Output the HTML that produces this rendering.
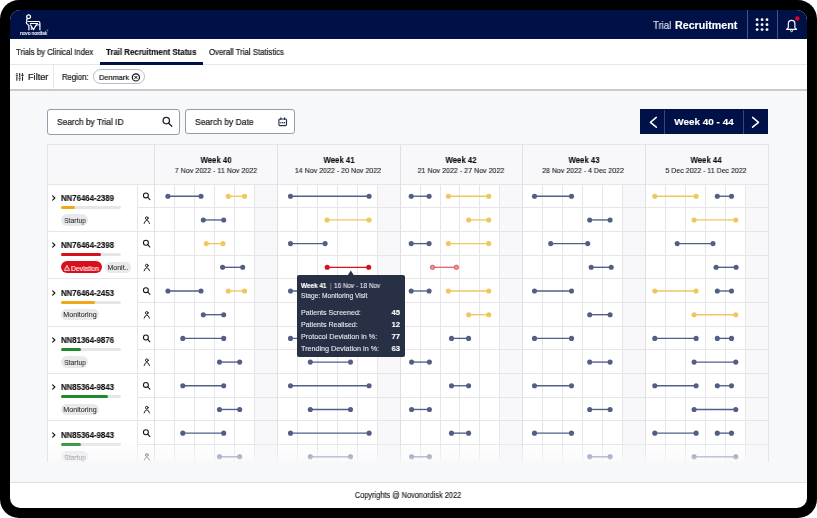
<!DOCTYPE html>
<html><head><meta charset="utf-8"><style>
html,body{margin:0;padding:0;background:#fff;width:817px;height:518px;overflow:hidden}
.r{position:absolute;box-sizing:border-box}
.t{position:absolute;white-space:nowrap;line-height:1;font-family:"Liberation Sans",sans-serif;will-change:transform}
svg.r{overflow:visible}
</style></head><body>
<div class="r" style="left:0;top:0;width:817px;height:518px;background:#000;border-radius:19px"></div>
<div class="r" style="left:10px;top:10px;width:797px;height:498px;background:#fff;border-radius:10px;overflow:hidden">
<div class="r" style="left:-10px;top:-10px;width:817px;height:518px">
<div class="r" style="left:0.00px;top:0.00px;width:817.00px;height:39.00px;background:#001148;"></div>
<svg class="r" style="left:18px;top:12px;will-change:transform" width="32" height="26" viewBox="0 0 32 26">
<g fill="none" stroke="#fff" stroke-width="1.2" stroke-linecap="round" stroke-linejoin="round">
<circle cx="10.6" cy="4.7" r="1.9" stroke-width="1.3"/>
<path d="M9.6 6.6 C8.4 7.4 8.2 8.6 9.2 9.4 C8.2 9.9 8.0 11.0 9.0 11.9 C9.8 12.6 10.5 12.9 10.9 13.4 L10.9 17.8"/>
<path d="M10.4 9.5 L20.6 9.5 C21.5 9.5 21.9 10.2 21.9 11.2 L21.9 17.8"/>
<path d="M12.2 11.5 L19.6 11.5" stroke-width="1.0"/>
<path d="M12.6 12.9 L15.4 17.8 L18.3 12.9"/>
<path d="M18.3 12.9 L21.7 12.9" stroke-width="1.0"/>
<path d="M13.3 17.6 L13.3 15.2" stroke-width="0.9"/>
</g>
<circle cx="29.5" cy="18.4" r="0.6" fill="none" stroke="#fff" stroke-width="0.35"/>
</svg>
<div class="t" style="left:19.80px;top:31.00px;font-size:5.4px;font-weight:400;color:#eef0f8;transform:scaleX(0.8883);transform-origin:0 0;-webkit-text-stroke:0.2px #eef0f8;">novo nordisk</div>
<div class="t" style="left:653.30px;top:21.00px;font-size:10.3px;font-weight:400;color:#d9dcea;transform:scaleX(0.9364);transform-origin:0 0;-webkit-text-stroke:0.22px #d9dcea;">Trial</div>
<div class="t" style="left:674.80px;top:21.00px;font-size:10.3px;font-weight:700;color:#ffffff;transform:scaleX(1.0364);transform-origin:0 0;-webkit-text-stroke:0.15px #ffffff;">Recruitment</div>
<div class="r" style="left:747.20px;top:10.00px;width:0.90px;height:28.60px;background:#46548a;"></div>
<div class="r" style="left:776.90px;top:10.00px;width:0.90px;height:28.60px;background:#46548a;"></div>
<svg class="r" style="left:0;top:0" width="817" height="40"><circle cx="757.10" cy="19.70" r="1.4" fill="#fff"/><circle cx="757.10" cy="24.65" r="1.4" fill="#fff"/><circle cx="757.10" cy="29.60" r="1.4" fill="#fff"/><circle cx="762.05" cy="19.70" r="1.4" fill="#fff"/><circle cx="762.05" cy="24.65" r="1.4" fill="#fff"/><circle cx="762.05" cy="29.60" r="1.4" fill="#fff"/><circle cx="767.00" cy="19.70" r="1.4" fill="#fff"/><circle cx="767.00" cy="24.65" r="1.4" fill="#fff"/><circle cx="767.00" cy="29.60" r="1.4" fill="#fff"/><path d="M788.3 27.6 L788.3 23.9 C788.3 21.5 789.6 20.3 791.6 20.3 C793.6 20.3 794.9 21.5 794.9 23.9 L794.9 27.6 C794.9 28.3 796.6 28.5 796.6 29.4 L786.6 29.4 C786.6 28.5 788.3 28.3 788.3 27.6 Z" fill="none" stroke="#fff" stroke-width="1.15" stroke-linejoin="round"/><circle cx="791.6" cy="30.7" r="1.0" fill="none" stroke="#fff" stroke-width="0.9"/><circle cx="797.3" cy="18.5" r="2.2" fill="#e4002b"/></svg>
<div class="r" style="left:0.00px;top:64.00px;width:817.00px;height:0.80px;background:#e6e7ea;"></div>
<div class="t" style="left:16.30px;top:49.00px;font-size:8.2px;font-weight:400;color:#1a1a1a;transform:scaleX(0.9458);transform-origin:0 0;-webkit-text-stroke:0.22px #1a1a1a;">Trials by Clinical Index</div>
<div class="t" style="left:105.80px;top:49.00px;font-size:8.2px;font-weight:700;color:#111;transform:scaleX(0.9594);transform-origin:0 0;-webkit-text-stroke:0.15px #111;">Trail Recruitment Status</div>
<div class="t" style="left:208.80px;top:49.00px;font-size:8.2px;font-weight:400;color:#1a1a1a;transform:scaleX(0.9526);transform-origin:0 0;-webkit-text-stroke:0.22px #1a1a1a;">Overall Trial Statistics</div>
<div class="r" style="left:100.00px;top:62.20px;width:103.00px;height:2.60px;background:#001148;"></div>
<div class="r" style="left:0.00px;top:89.20px;width:817.00px;height:1.80px;background:#c9cacd;"></div>
<div class="r" style="left:53.20px;top:64.80px;width:0.80px;height:24.40px;background:#e6e7ea;"></div>
<svg class="r" style="left:0;top:60px" width="60" height="30"><g stroke="#222" stroke-width="1.1" stroke-linecap="butt"><path d="M16.9 12.9 V14.2 M16.9 16.2 V20.7 M15.8 15.2 H18"/><path d="M19.7 12.9 V17.2 M19.7 19.2 V20.7 M18.6 18.2 H20.8"/><path d="M22.5 12.9 V14.4 M22.5 16.4 V20.7 M21.4 15.4 H23.6"/></g></svg>
<div class="t" style="left:27.70px;top:73.00px;font-size:8.8px;font-weight:400;color:#1a1a1a;transform:scaleX(1.0426);transform-origin:0 0;-webkit-text-stroke:0.22px #1a1a1a;">Filter</div>
<div class="t" style="left:61.80px;top:73.00px;font-size:8.4px;font-weight:400;color:#1a1a1a;transform:scaleX(0.9153);transform-origin:0 0;-webkit-text-stroke:0.22px #1a1a1a;">Region:</div>
<div class="r" style="left:93.3px;top:69.4px;width:52px;height:15px;border:1px solid #b8bcc6;border-radius:8px;background:#fff"></div>
<div class="t" style="left:98.50px;top:74.00px;font-size:8.0px;font-weight:400;color:#1a1a1a;transform:scaleX(0.9241);transform-origin:0 0;-webkit-text-stroke:0.22px #1a1a1a;">Denmark</div>
<svg class="r" style="left:0;top:60px" width="150" height="30"><g fill="none" stroke="#111" stroke-width="1.2"><circle cx="135.9" cy="17.4" r="3.6"/><path d="M134.4 15.9 L137.4 18.9 M137.4 15.9 L134.4 18.9" stroke-width="1"/></g></svg>
<div class="r" style="left:0.00px;top:91.00px;width:817.00px;height:391.00px;background:#f7f8fa;"></div>
<div class="r" style="left:0.00px;top:482.00px;width:817.00px;height:0.90px;background:#dfe0e3;"></div>
<div class="t" style="left:258.40px;width:300px;text-align:center;top:492.00px;font-size:8.2px;font-weight:400;color:#1a1a1a;transform:scaleX(0.9011);transform-origin:50% 0;-webkit-text-stroke:0.15px #1a1a1a;">Copyrights @ Novonordisk 2022</div>
<div class="r" style="left:47.3px;top:109.4px;width:132.6px;height:25.3px;border:1px solid #979cab;border-radius:3px;background:#fff"></div>
<div class="t" style="left:57.20px;top:118.00px;font-size:9.2px;font-weight:400;color:#1a1a1a;transform:scaleX(0.9108);transform-origin:0 0;-webkit-text-stroke:0.22px #1a1a1a;">Search by Trial ID</div>
<svg class="r" style="left:150px;top:105px" width="30" height="30"><g fill="none" stroke="#1b2030" stroke-width="1.3" stroke-linecap="round"><circle cx="16.3" cy="15.6" r="3.2"/><path d="M18.7 18.2 L21.8 21.2"/></g></svg>
<div class="r" style="left:185px;top:109.4px;width:109.6px;height:25.1px;border:1px solid #979cab;border-radius:3px;background:#fff"></div>
<div class="t" style="left:194.70px;top:118.00px;font-size:9.2px;font-weight:400;color:#1a1a1a;transform:scaleX(0.9240);transform-origin:0 0;-webkit-text-stroke:0.22px #1a1a1a;">Search by Date</div>
<svg class="r" style="left:270px;top:105px" width="30" height="30"><g fill="none" stroke="#2a3350" stroke-width="1.2"><rect x="8.9" y="14" width="7.6" height="6.6" rx="1"/><path d="M10.8 12.9 V14.5 M14.6 12.9 V14.5" stroke-linecap="round"/></g><g fill="#2a3350"><rect x="10.3" y="17" width="1.2" height="1.4"/><rect x="12.1" y="17" width="1.2" height="1.4"/><rect x="13.9" y="17" width="1.2" height="1.4"/></g></svg>
<div class="r" style="left:639.50px;top:109.30px;width:128.50px;height:25.00px;background:#001148;"></div>
<div class="r" style="left:664.00px;top:109.50px;width:0.80px;height:24.80px;background:#34457f;"></div>
<div class="r" style="left:743.20px;top:109.50px;width:0.80px;height:24.80px;background:#34457f;"></div>
<div class="t" style="left:554.00px;width:300px;text-align:center;top:117.00px;font-size:9.6px;font-weight:700;color:#fff;transform:scaleX(1.0354);transform-origin:50% 0;-webkit-text-stroke:0.15px #fff;">Week 40 - 44</div>
<svg class="r" style="left:640px;top:110px" width="128" height="25"><g fill="none" stroke="#fff" stroke-width="1.5" stroke-linecap="round" stroke-linejoin="round"><path d="M16.3 7.4 L10.4 12.3 L16.3 17.2"/><path d="M112.6 7.4 L118.5 12.3 L112.6 17.2"/></g></svg>
<div class="r" style="left:47.5px;top:144.5px;width:720.5px;height:317.8px;overflow:hidden;background:#fff">
<div class="r" style="left:0;top:0;width:720.5px;height:39.400000000000006px;background:#f8f8fa"></div>
<div class="r" style="left:206.60px;top:39.40px;width:23.60px;height:400px;background:#f8f8fa"></div>
<div class="r" style="left:330.00px;top:39.40px;width:22.50px;height:400px;background:#f8f8fa"></div>
<div class="r" style="left:452.30px;top:39.40px;width:22.70px;height:400px;background:#f8f8fa"></div>
<div class="r" style="left:574.80px;top:39.40px;width:22.90px;height:400px;background:#f8f8fa"></div>
<div class="r" style="left:697.50px;top:39.40px;width:23.00px;height:400px;background:#f8f8fa"></div>
<div class="r" style="left:126.35px;top:39.40px;width:0.8px;height:400px;background:#e6e6e9"></div>
<div class="r" style="left:146.30px;top:39.40px;width:0.8px;height:400px;background:#e6e6e9"></div>
<div class="r" style="left:166.25px;top:39.40px;width:0.8px;height:400px;background:#e6e6e9"></div>
<div class="r" style="left:186.20px;top:39.40px;width:0.8px;height:400px;background:#e6e6e9"></div>
<div class="r" style="left:206.15px;top:39.40px;width:0.8px;height:400px;background:#e6e6e9"></div>
<div class="r" style="left:249.75px;top:39.40px;width:0.8px;height:400px;background:#e6e6e9"></div>
<div class="r" style="left:269.70px;top:39.40px;width:0.8px;height:400px;background:#e6e6e9"></div>
<div class="r" style="left:289.65px;top:39.40px;width:0.8px;height:400px;background:#e6e6e9"></div>
<div class="r" style="left:309.60px;top:39.40px;width:0.8px;height:400px;background:#e6e6e9"></div>
<div class="r" style="left:329.55px;top:39.40px;width:0.8px;height:400px;background:#e6e6e9"></div>
<div class="r" style="left:372.05px;top:39.40px;width:0.8px;height:400px;background:#e6e6e9"></div>
<div class="r" style="left:392.00px;top:39.40px;width:0.8px;height:400px;background:#e6e6e9"></div>
<div class="r" style="left:411.95px;top:39.40px;width:0.8px;height:400px;background:#e6e6e9"></div>
<div class="r" style="left:431.90px;top:39.40px;width:0.8px;height:400px;background:#e6e6e9"></div>
<div class="r" style="left:451.85px;top:39.40px;width:0.8px;height:400px;background:#e6e6e9"></div>
<div class="r" style="left:494.55px;top:39.40px;width:0.8px;height:400px;background:#e6e6e9"></div>
<div class="r" style="left:514.50px;top:39.40px;width:0.8px;height:400px;background:#e6e6e9"></div>
<div class="r" style="left:534.45px;top:39.40px;width:0.8px;height:400px;background:#e6e6e9"></div>
<div class="r" style="left:554.40px;top:39.40px;width:0.8px;height:400px;background:#e6e6e9"></div>
<div class="r" style="left:574.35px;top:39.40px;width:0.8px;height:400px;background:#e6e6e9"></div>
<div class="r" style="left:617.25px;top:39.40px;width:0.8px;height:400px;background:#e6e6e9"></div>
<div class="r" style="left:637.20px;top:39.40px;width:0.8px;height:400px;background:#e6e6e9"></div>
<div class="r" style="left:657.15px;top:39.40px;width:0.8px;height:400px;background:#e6e6e9"></div>
<div class="r" style="left:677.10px;top:39.40px;width:0.8px;height:400px;background:#e6e6e9"></div>
<div class="r" style="left:697.05px;top:39.40px;width:0.8px;height:400px;background:#e6e6e9"></div>
<div class="r" style="left:0.00px;top:39.00px;width:720.50px;height:0.8px;background:#e6e6e9"></div>
<div class="r" style="left:90.10px;top:62.69px;width:720.50px;height:0.8px;background:#e6e6e9"></div>
<div class="r" style="left:0.00px;top:86.38px;width:720.50px;height:0.8px;background:#e6e6e9"></div>
<div class="r" style="left:90.10px;top:110.07px;width:720.50px;height:0.8px;background:#e6e6e9"></div>
<div class="r" style="left:0.00px;top:133.76px;width:720.50px;height:0.8px;background:#e6e6e9"></div>
<div class="r" style="left:90.10px;top:157.45px;width:720.50px;height:0.8px;background:#e6e6e9"></div>
<div class="r" style="left:0.00px;top:181.14px;width:720.50px;height:0.8px;background:#e6e6e9"></div>
<div class="r" style="left:90.10px;top:204.83px;width:720.50px;height:0.8px;background:#e6e6e9"></div>
<div class="r" style="left:0.00px;top:228.52px;width:720.50px;height:0.8px;background:#e6e6e9"></div>
<div class="r" style="left:90.10px;top:252.21px;width:720.50px;height:0.8px;background:#e6e6e9"></div>
<div class="r" style="left:0.00px;top:275.90px;width:720.50px;height:0.8px;background:#e6e6e9"></div>
<div class="r" style="left:90.10px;top:299.59px;width:720.50px;height:0.8px;background:#e6e6e9"></div>
<div class="r" style="left:0.00px;top:323.28px;width:720.50px;height:0.8px;background:#e6e6e9"></div>
<div class="r" style="left:89.70px;top:39.40px;width:0.8px;height:400px;background:#e6e6e9"></div>
<div class="r" style="left:106.40px;top:0;width:0.8px;height:400px;background:#e0e0e3"></div>
<div class="r" style="left:229.80px;top:0;width:0.8px;height:400px;background:#e0e0e3"></div>
<div class="r" style="left:352.10px;top:0;width:0.8px;height:400px;background:#e0e0e3"></div>
<div class="r" style="left:474.60px;top:0;width:0.8px;height:400px;background:#e0e0e3"></div>
<div class="r" style="left:597.30px;top:0;width:0.8px;height:400px;background:#e0e0e3"></div>
<div class="t" style="left:108.20px;width:120px;text-align:center;top:11.00px;font-size:9.2px;font-weight:700;color:#111;transform:scaleX(0.8512);transform-origin:50% 0;-webkit-text-stroke:0.15px #111;">Week 40</div>
<div class="t" style="left:108.10px;width:120px;text-align:center;top:22.00px;font-size:7.9px;font-weight:400;color:#222;transform:scaleX(0.9012);transform-origin:50% 0;-webkit-text-stroke:0.12px #222;">7 Nov 2022 - 11 Nov 2022</div>
<div class="t" style="left:231.05px;width:120px;text-align:center;top:11.00px;font-size:9.2px;font-weight:700;color:#111;transform:scaleX(0.8512);transform-origin:50% 0;-webkit-text-stroke:0.15px #111;">Week 41</div>
<div class="t" style="left:230.95px;width:120px;text-align:center;top:22.00px;font-size:7.9px;font-weight:400;color:#222;transform:scaleX(0.8942);transform-origin:50% 0;-webkit-text-stroke:0.12px #222;">14 Nov 2022 - 20 Nov 2022</div>
<div class="t" style="left:353.45px;width:120px;text-align:center;top:11.00px;font-size:9.2px;font-weight:700;color:#111;transform:scaleX(0.8512);transform-origin:50% 0;-webkit-text-stroke:0.15px #111;">Week 42</div>
<div class="t" style="left:353.35px;width:120px;text-align:center;top:22.00px;font-size:7.9px;font-weight:400;color:#222;transform:scaleX(0.8993);transform-origin:50% 0;-webkit-text-stroke:0.12px #222;">21 Nov 2022 - 27 Nov 2022</div>
<div class="t" style="left:476.05px;width:120px;text-align:center;top:11.00px;font-size:9.2px;font-weight:700;color:#111;transform:scaleX(0.8512);transform-origin:50% 0;-webkit-text-stroke:0.15px #111;">Week 43</div>
<div class="t" style="left:475.95px;width:120px;text-align:center;top:22.00px;font-size:7.9px;font-weight:400;color:#222;transform:scaleX(0.8869);transform-origin:50% 0;-webkit-text-stroke:0.12px #222;">28 Nov 2022 - 4 Dec 2022</div>
<div class="t" style="left:598.80px;width:120px;text-align:center;top:11.00px;font-size:9.2px;font-weight:700;color:#111;transform:scaleX(0.8512);transform-origin:50% 0;-webkit-text-stroke:0.15px #111;">Week 44</div>
<div class="t" style="left:598.70px;width:120px;text-align:center;top:22.00px;font-size:7.9px;font-weight:400;color:#222;transform:scaleX(0.8860);transform-origin:50% 0;-webkit-text-stroke:0.12px #222;">5 Dec 2022 - 11 Dec 2022</div>
<svg class="r" style="left:0;top:0" width="720.5" height="317.8"><line x1="119.90" y1="51.25" x2="153.00" y2="51.25" stroke="#535e87" stroke-width="1.35"/><circle cx="119.90" cy="51.25" r="2.55" fill="#535e87"/><circle cx="153.00" cy="51.25" r="2.55" fill="#535e87"/><line x1="180.30" y1="51.25" x2="196.60" y2="51.25" stroke="#f0c75e" stroke-width="1.35"/><circle cx="180.30" cy="51.25" r="2.55" fill="#f0c75e"/><circle cx="196.60" cy="51.25" r="2.55" fill="#f0c75e"/><line x1="242.50" y1="51.25" x2="321.10" y2="51.25" stroke="#535e87" stroke-width="1.35"/><circle cx="242.50" cy="51.25" r="2.55" fill="#535e87"/><circle cx="321.10" cy="51.25" r="2.55" fill="#535e87"/><line x1="363.20" y1="51.25" x2="381.10" y2="51.25" stroke="#535e87" stroke-width="1.35"/><circle cx="363.20" cy="51.25" r="2.55" fill="#535e87"/><circle cx="381.10" cy="51.25" r="2.55" fill="#535e87"/><line x1="400.40" y1="51.25" x2="440.70" y2="51.25" stroke="#f0c75e" stroke-width="1.35"/><circle cx="400.40" cy="51.25" r="2.55" fill="#f0c75e"/><circle cx="440.70" cy="51.25" r="2.55" fill="#f0c75e"/><line x1="486.50" y1="51.25" x2="523.50" y2="51.25" stroke="#535e87" stroke-width="1.35"/><circle cx="486.50" cy="51.25" r="2.55" fill="#535e87"/><circle cx="523.50" cy="51.25" r="2.55" fill="#535e87"/><line x1="606.80" y1="51.25" x2="648.10" y2="51.25" stroke="#f0c75e" stroke-width="1.35"/><circle cx="606.80" cy="51.25" r="2.55" fill="#f0c75e"/><circle cx="648.10" cy="51.25" r="2.55" fill="#f0c75e"/><line x1="669.30" y1="51.25" x2="683.50" y2="51.25" stroke="#535e87" stroke-width="1.35"/><circle cx="669.30" cy="51.25" r="2.55" fill="#535e87"/><circle cx="683.50" cy="51.25" r="2.55" fill="#535e87"/><line x1="155.30" y1="74.94" x2="175.70" y2="74.94" stroke="#535e87" stroke-width="1.35"/><circle cx="155.30" cy="74.94" r="2.55" fill="#535e87"/><circle cx="175.70" cy="74.94" r="2.55" fill="#535e87"/><line x1="279.00" y1="74.94" x2="321.10" y2="74.94" stroke="#f0c75e" stroke-width="1.35"/><circle cx="279.00" cy="74.94" r="2.55" fill="#f0c75e"/><circle cx="321.10" cy="74.94" r="2.55" fill="#f0c75e"/><line x1="420.60" y1="74.94" x2="440.70" y2="74.94" stroke="#f0c75e" stroke-width="1.35"/><circle cx="420.60" cy="74.94" r="2.55" fill="#f0c75e"/><circle cx="440.70" cy="74.94" r="2.55" fill="#f0c75e"/><line x1="541.70" y1="74.94" x2="562.10" y2="74.94" stroke="#535e87" stroke-width="1.35"/><circle cx="541.70" cy="74.94" r="2.55" fill="#535e87"/><circle cx="562.10" cy="74.94" r="2.55" fill="#535e87"/><line x1="646.10" y1="74.94" x2="687.80" y2="74.94" stroke="#f0c75e" stroke-width="1.35"/><circle cx="646.10" cy="74.94" r="2.55" fill="#f0c75e"/><circle cx="687.80" cy="74.94" r="2.55" fill="#f0c75e"/><line x1="158.30" y1="98.62" x2="175.00" y2="98.62" stroke="#f0c75e" stroke-width="1.35"/><circle cx="158.30" cy="98.62" r="2.55" fill="#f0c75e"/><circle cx="175.00" cy="98.62" r="2.55" fill="#f0c75e"/><line x1="242.50" y1="98.62" x2="277.10" y2="98.62" stroke="#535e87" stroke-width="1.35"/><circle cx="242.50" cy="98.62" r="2.55" fill="#535e87"/><circle cx="277.10" cy="98.62" r="2.55" fill="#535e87"/><line x1="363.20" y1="98.62" x2="381.10" y2="98.62" stroke="#535e87" stroke-width="1.35"/><circle cx="363.20" cy="98.62" r="2.55" fill="#535e87"/><circle cx="381.10" cy="98.62" r="2.55" fill="#535e87"/><line x1="400.40" y1="98.62" x2="440.70" y2="98.62" stroke="#f0c75e" stroke-width="1.35"/><circle cx="400.40" cy="98.62" r="2.55" fill="#f0c75e"/><circle cx="440.70" cy="98.62" r="2.55" fill="#f0c75e"/><line x1="502.70" y1="98.62" x2="539.70" y2="98.62" stroke="#535e87" stroke-width="1.35"/><circle cx="502.70" cy="98.62" r="2.55" fill="#535e87"/><circle cx="539.70" cy="98.62" r="2.55" fill="#535e87"/><line x1="629.20" y1="98.62" x2="665.00" y2="98.62" stroke="#535e87" stroke-width="1.35"/><circle cx="629.20" cy="98.62" r="2.55" fill="#535e87"/><circle cx="665.00" cy="98.62" r="2.55" fill="#535e87"/><line x1="174.60" y1="122.31" x2="194.70" y2="122.31" stroke="#535e87" stroke-width="1.35"/><circle cx="174.60" cy="122.31" r="2.55" fill="#535e87"/><circle cx="194.70" cy="122.31" r="2.55" fill="#535e87"/><line x1="279.20" y1="122.31" x2="320.70" y2="122.31" stroke="#d7101c" stroke-width="1.35"/><circle cx="279.20" cy="122.31" r="2.55" fill="#d7101c"/><circle cx="320.70" cy="122.31" r="2.55" fill="#d7101c"/><line x1="384.50" y1="122.31" x2="408.40" y2="122.31" stroke="#e46a72" stroke-width="1.35"/><circle cx="384.50" cy="122.31" r="2.2" fill="#ee8f95" stroke="#dc3a44" stroke-width="0.7"/><circle cx="408.40" cy="122.31" r="2.2" fill="#ee8f95" stroke="#dc3a44" stroke-width="0.7"/><line x1="543.20" y1="122.31" x2="563.20" y2="122.31" stroke="#535e87" stroke-width="1.35"/><circle cx="543.20" cy="122.31" r="2.55" fill="#535e87"/><circle cx="563.20" cy="122.31" r="2.55" fill="#535e87"/><line x1="668.10" y1="122.31" x2="688.10" y2="122.31" stroke="#535e87" stroke-width="1.35"/><circle cx="668.10" cy="122.31" r="2.55" fill="#535e87"/><circle cx="688.10" cy="122.31" r="2.55" fill="#535e87"/><line x1="119.90" y1="146.00" x2="153.00" y2="146.00" stroke="#535e87" stroke-width="1.35"/><circle cx="119.90" cy="146.00" r="2.55" fill="#535e87"/><circle cx="153.00" cy="146.00" r="2.55" fill="#535e87"/><line x1="180.30" y1="146.00" x2="196.60" y2="146.00" stroke="#f0c75e" stroke-width="1.35"/><circle cx="180.30" cy="146.00" r="2.55" fill="#f0c75e"/><circle cx="196.60" cy="146.00" r="2.55" fill="#f0c75e"/><line x1="242.50" y1="146.00" x2="321.10" y2="146.00" stroke="#535e87" stroke-width="1.35"/><circle cx="242.50" cy="146.00" r="2.55" fill="#535e87"/><circle cx="321.10" cy="146.00" r="2.55" fill="#535e87"/><line x1="363.20" y1="146.00" x2="381.10" y2="146.00" stroke="#535e87" stroke-width="1.35"/><circle cx="363.20" cy="146.00" r="2.55" fill="#535e87"/><circle cx="381.10" cy="146.00" r="2.55" fill="#535e87"/><line x1="400.40" y1="146.00" x2="440.70" y2="146.00" stroke="#f0c75e" stroke-width="1.35"/><circle cx="400.40" cy="146.00" r="2.55" fill="#f0c75e"/><circle cx="440.70" cy="146.00" r="2.55" fill="#f0c75e"/><line x1="486.50" y1="146.00" x2="523.50" y2="146.00" stroke="#535e87" stroke-width="1.35"/><circle cx="486.50" cy="146.00" r="2.55" fill="#535e87"/><circle cx="523.50" cy="146.00" r="2.55" fill="#535e87"/><line x1="606.80" y1="146.00" x2="648.10" y2="146.00" stroke="#f0c75e" stroke-width="1.35"/><circle cx="606.80" cy="146.00" r="2.55" fill="#f0c75e"/><circle cx="648.10" cy="146.00" r="2.55" fill="#f0c75e"/><line x1="669.30" y1="146.00" x2="683.50" y2="146.00" stroke="#535e87" stroke-width="1.35"/><circle cx="669.30" cy="146.00" r="2.55" fill="#535e87"/><circle cx="683.50" cy="146.00" r="2.55" fill="#535e87"/><line x1="155.30" y1="169.70" x2="175.70" y2="169.70" stroke="#535e87" stroke-width="1.35"/><circle cx="155.30" cy="169.70" r="2.55" fill="#535e87"/><circle cx="175.70" cy="169.70" r="2.55" fill="#535e87"/><line x1="279.00" y1="169.70" x2="321.10" y2="169.70" stroke="#f0c75e" stroke-width="1.35"/><circle cx="279.00" cy="169.70" r="2.55" fill="#f0c75e"/><circle cx="321.10" cy="169.70" r="2.55" fill="#f0c75e"/><line x1="420.60" y1="169.70" x2="440.70" y2="169.70" stroke="#f0c75e" stroke-width="1.35"/><circle cx="420.60" cy="169.70" r="2.55" fill="#f0c75e"/><circle cx="440.70" cy="169.70" r="2.55" fill="#f0c75e"/><line x1="541.70" y1="169.70" x2="562.10" y2="169.70" stroke="#535e87" stroke-width="1.35"/><circle cx="541.70" cy="169.70" r="2.55" fill="#535e87"/><circle cx="562.10" cy="169.70" r="2.55" fill="#535e87"/><line x1="646.10" y1="169.70" x2="687.80" y2="169.70" stroke="#f0c75e" stroke-width="1.35"/><circle cx="646.10" cy="169.70" r="2.55" fill="#f0c75e"/><circle cx="687.80" cy="169.70" r="2.55" fill="#f0c75e"/><line x1="134.80" y1="193.38" x2="175.70" y2="193.38" stroke="#535e87" stroke-width="1.35"/><circle cx="134.80" cy="193.38" r="2.55" fill="#535e87"/><circle cx="175.70" cy="193.38" r="2.55" fill="#535e87"/><line x1="242.50" y1="193.38" x2="321.10" y2="193.38" stroke="#535e87" stroke-width="1.35"/><circle cx="242.50" cy="193.38" r="2.55" fill="#535e87"/><circle cx="321.10" cy="193.38" r="2.55" fill="#535e87"/><line x1="403.50" y1="193.38" x2="420.60" y2="193.38" stroke="#535e87" stroke-width="1.35"/><circle cx="403.50" cy="193.38" r="2.55" fill="#535e87"/><circle cx="420.60" cy="193.38" r="2.55" fill="#535e87"/><line x1="486.50" y1="193.38" x2="523.50" y2="193.38" stroke="#535e87" stroke-width="1.35"/><circle cx="486.50" cy="193.38" r="2.55" fill="#535e87"/><circle cx="523.50" cy="193.38" r="2.55" fill="#535e87"/><line x1="606.80" y1="193.38" x2="648.10" y2="193.38" stroke="#535e87" stroke-width="1.35"/><circle cx="606.80" cy="193.38" r="2.55" fill="#535e87"/><circle cx="648.10" cy="193.38" r="2.55" fill="#535e87"/><line x1="669.30" y1="193.38" x2="683.50" y2="193.38" stroke="#535e87" stroke-width="1.35"/><circle cx="669.30" cy="193.38" r="2.55" fill="#535e87"/><circle cx="683.50" cy="193.38" r="2.55" fill="#535e87"/><line x1="171.50" y1="217.08" x2="191.70" y2="217.08" stroke="#535e87" stroke-width="1.35"/><circle cx="171.50" cy="217.08" r="2.55" fill="#535e87"/><circle cx="191.70" cy="217.08" r="2.55" fill="#535e87"/><line x1="262.30" y1="217.08" x2="302.50" y2="217.08" stroke="#535e87" stroke-width="1.35"/><circle cx="262.30" cy="217.08" r="2.55" fill="#535e87"/><circle cx="302.50" cy="217.08" r="2.55" fill="#535e87"/><line x1="363.60" y1="217.08" x2="381.40" y2="217.08" stroke="#535e87" stroke-width="1.35"/><circle cx="363.60" cy="217.08" r="2.55" fill="#535e87"/><circle cx="381.40" cy="217.08" r="2.55" fill="#535e87"/><line x1="541.70" y1="217.08" x2="562.10" y2="217.08" stroke="#535e87" stroke-width="1.35"/><circle cx="541.70" cy="217.08" r="2.55" fill="#535e87"/><circle cx="562.10" cy="217.08" r="2.55" fill="#535e87"/><line x1="646.10" y1="217.08" x2="687.80" y2="217.08" stroke="#535e87" stroke-width="1.35"/><circle cx="646.10" cy="217.08" r="2.55" fill="#535e87"/><circle cx="687.80" cy="217.08" r="2.55" fill="#535e87"/><line x1="134.80" y1="240.76" x2="175.70" y2="240.76" stroke="#535e87" stroke-width="1.35"/><circle cx="134.80" cy="240.76" r="2.55" fill="#535e87"/><circle cx="175.70" cy="240.76" r="2.55" fill="#535e87"/><line x1="242.50" y1="240.76" x2="321.10" y2="240.76" stroke="#535e87" stroke-width="1.35"/><circle cx="242.50" cy="240.76" r="2.55" fill="#535e87"/><circle cx="321.10" cy="240.76" r="2.55" fill="#535e87"/><line x1="403.50" y1="240.76" x2="420.60" y2="240.76" stroke="#535e87" stroke-width="1.35"/><circle cx="403.50" cy="240.76" r="2.55" fill="#535e87"/><circle cx="420.60" cy="240.76" r="2.55" fill="#535e87"/><line x1="486.50" y1="240.76" x2="523.50" y2="240.76" stroke="#535e87" stroke-width="1.35"/><circle cx="486.50" cy="240.76" r="2.55" fill="#535e87"/><circle cx="523.50" cy="240.76" r="2.55" fill="#535e87"/><line x1="606.80" y1="240.76" x2="648.10" y2="240.76" stroke="#535e87" stroke-width="1.35"/><circle cx="606.80" cy="240.76" r="2.55" fill="#535e87"/><circle cx="648.10" cy="240.76" r="2.55" fill="#535e87"/><line x1="669.30" y1="240.76" x2="683.50" y2="240.76" stroke="#535e87" stroke-width="1.35"/><circle cx="669.30" cy="240.76" r="2.55" fill="#535e87"/><circle cx="683.50" cy="240.76" r="2.55" fill="#535e87"/><line x1="171.50" y1="264.46" x2="191.70" y2="264.46" stroke="#535e87" stroke-width="1.35"/><circle cx="171.50" cy="264.46" r="2.55" fill="#535e87"/><circle cx="191.70" cy="264.46" r="2.55" fill="#535e87"/><line x1="262.30" y1="264.46" x2="302.50" y2="264.46" stroke="#535e87" stroke-width="1.35"/><circle cx="262.30" cy="264.46" r="2.55" fill="#535e87"/><circle cx="302.50" cy="264.46" r="2.55" fill="#535e87"/><line x1="363.60" y1="264.46" x2="381.40" y2="264.46" stroke="#535e87" stroke-width="1.35"/><circle cx="363.60" cy="264.46" r="2.55" fill="#535e87"/><circle cx="381.40" cy="264.46" r="2.55" fill="#535e87"/><line x1="541.70" y1="264.46" x2="562.10" y2="264.46" stroke="#535e87" stroke-width="1.35"/><circle cx="541.70" cy="264.46" r="2.55" fill="#535e87"/><circle cx="562.10" cy="264.46" r="2.55" fill="#535e87"/><line x1="646.10" y1="264.46" x2="687.80" y2="264.46" stroke="#535e87" stroke-width="1.35"/><circle cx="646.10" cy="264.46" r="2.55" fill="#535e87"/><circle cx="687.80" cy="264.46" r="2.55" fill="#535e87"/><line x1="134.80" y1="288.14" x2="175.70" y2="288.14" stroke="#535e87" stroke-width="1.35"/><circle cx="134.80" cy="288.14" r="2.55" fill="#535e87"/><circle cx="175.70" cy="288.14" r="2.55" fill="#535e87"/><line x1="242.50" y1="288.14" x2="321.10" y2="288.14" stroke="#535e87" stroke-width="1.35"/><circle cx="242.50" cy="288.14" r="2.55" fill="#535e87"/><circle cx="321.10" cy="288.14" r="2.55" fill="#535e87"/><line x1="403.50" y1="288.14" x2="420.60" y2="288.14" stroke="#535e87" stroke-width="1.35"/><circle cx="403.50" cy="288.14" r="2.55" fill="#535e87"/><circle cx="420.60" cy="288.14" r="2.55" fill="#535e87"/><line x1="486.50" y1="288.14" x2="523.50" y2="288.14" stroke="#535e87" stroke-width="1.35"/><circle cx="486.50" cy="288.14" r="2.55" fill="#535e87"/><circle cx="523.50" cy="288.14" r="2.55" fill="#535e87"/><line x1="606.80" y1="288.14" x2="648.10" y2="288.14" stroke="#535e87" stroke-width="1.35"/><circle cx="606.80" cy="288.14" r="2.55" fill="#535e87"/><circle cx="648.10" cy="288.14" r="2.55" fill="#535e87"/><line x1="669.30" y1="288.14" x2="683.50" y2="288.14" stroke="#535e87" stroke-width="1.35"/><circle cx="669.30" cy="288.14" r="2.55" fill="#535e87"/><circle cx="683.50" cy="288.14" r="2.55" fill="#535e87"/><line x1="171.50" y1="311.84" x2="191.70" y2="311.84" stroke="#535e87" stroke-width="1.35"/><circle cx="171.50" cy="311.84" r="2.55" fill="#535e87"/><circle cx="191.70" cy="311.84" r="2.55" fill="#535e87"/><line x1="262.30" y1="311.84" x2="302.50" y2="311.84" stroke="#535e87" stroke-width="1.35"/><circle cx="262.30" cy="311.84" r="2.55" fill="#535e87"/><circle cx="302.50" cy="311.84" r="2.55" fill="#535e87"/><line x1="363.60" y1="311.84" x2="381.40" y2="311.84" stroke="#535e87" stroke-width="1.35"/><circle cx="363.60" cy="311.84" r="2.55" fill="#535e87"/><circle cx="381.40" cy="311.84" r="2.55" fill="#535e87"/><line x1="541.70" y1="311.84" x2="562.10" y2="311.84" stroke="#535e87" stroke-width="1.35"/><circle cx="541.70" cy="311.84" r="2.55" fill="#535e87"/><circle cx="562.10" cy="311.84" r="2.55" fill="#535e87"/><line x1="646.10" y1="311.84" x2="687.80" y2="311.84" stroke="#535e87" stroke-width="1.35"/><circle cx="646.10" cy="311.84" r="2.55" fill="#535e87"/><circle cx="687.80" cy="311.84" r="2.55" fill="#535e87"/><g fill="none" stroke="#111" stroke-width="1.05" stroke-linecap="round"><circle cx="97.90" cy="50.40" r="2.45"/><path d="M99.70 52.25 L101.90 54.65"/></g><g fill="none" stroke="#151515" stroke-width="0.95" stroke-linecap="round"><circle cx="98.80" cy="73.14" r="1.35"/><path d="M96.10 78.44 Q97.00 75.34 98.80 75.34 Q100.60 75.34 101.50 78.44"/></g><g fill="none" stroke="#111" stroke-width="1.05" stroke-linecap="round"><circle cx="97.90" cy="97.78" r="2.45"/><path d="M99.70 99.62 L101.90 102.03"/></g><g fill="none" stroke="#151515" stroke-width="0.95" stroke-linecap="round"><circle cx="98.80" cy="120.52" r="1.35"/><path d="M96.10 125.81 Q97.00 122.72 98.80 122.72 Q100.60 122.72 101.50 125.81"/></g><g fill="none" stroke="#111" stroke-width="1.05" stroke-linecap="round"><circle cx="97.90" cy="145.16" r="2.45"/><path d="M99.70 147.00 L101.90 149.41"/></g><g fill="none" stroke="#151515" stroke-width="0.95" stroke-linecap="round"><circle cx="98.80" cy="167.90" r="1.35"/><path d="M96.10 173.20 Q97.00 170.10 98.80 170.10 Q100.60 170.10 101.50 173.20"/></g><g fill="none" stroke="#111" stroke-width="1.05" stroke-linecap="round"><circle cx="97.90" cy="192.53" r="2.45"/><path d="M99.70 194.38 L101.90 196.78"/></g><g fill="none" stroke="#151515" stroke-width="0.95" stroke-linecap="round"><circle cx="98.80" cy="215.28" r="1.35"/><path d="M96.10 220.58 Q97.00 217.48 98.80 217.48 Q100.60 217.48 101.50 220.58"/></g><g fill="none" stroke="#111" stroke-width="1.05" stroke-linecap="round"><circle cx="97.90" cy="239.91" r="2.45"/><path d="M99.70 241.76 L101.90 244.16"/></g><g fill="none" stroke="#151515" stroke-width="0.95" stroke-linecap="round"><circle cx="98.80" cy="262.66" r="1.35"/><path d="M96.10 267.96 Q97.00 264.86 98.80 264.86 Q100.60 264.86 101.50 267.96"/></g><g fill="none" stroke="#111" stroke-width="1.05" stroke-linecap="round"><circle cx="97.90" cy="287.29" r="2.45"/><path d="M99.70 289.14 L101.90 291.54"/></g><g fill="none" stroke="#151515" stroke-width="0.95" stroke-linecap="round"><circle cx="98.80" cy="310.04" r="1.35"/><path d="M96.10 315.34 Q97.00 312.24 98.80 312.24 Q100.60 312.24 101.50 315.34"/></g></svg>
<svg class="r" style="left:2.50px;top:39.40px" width="10" height="30"><path d="M2.6 11.9 L4.9 14.0 L2.6 16.1" fill="none" stroke="#111" stroke-width="1.1" stroke-linecap="round" stroke-linejoin="round"/></svg>
<div class="t" style="left:13.60px;top:49.00px;font-size:8.4px;font-weight:700;color:#111;transform:scaleX(0.9320);transform-origin:0 0;-webkit-text-stroke:0.15px #111;">NN76464-2389</div>
<div class="r" style="left:13.60px;top:61.40px;width:59.8px;height:2.9px;background:#e6e6e6;border-radius:2px"></div>
<div class="r" style="left:13.60px;top:61.40px;width:13.90px;height:2.9px;background:#efa81a;border-radius:2px"></div>
<div class="r" style="left:13.70px;top:69.70px;width:26.6px;height:11.4px;background:#e9e9eb;border-radius:6px"></div>
<div class="t" style="left:-3.00px;width:60px;text-align:center;top:73.00px;font-size:6.9px;font-weight:400;color:#1f1f1f;transform:scaleX(0.9707);transform-origin:50% 0;-webkit-text-stroke:0.05px #1f1f1f;">Startup</div>
<svg class="r" style="left:2.50px;top:86.78px" width="10" height="30"><path d="M2.6 11.9 L4.9 14.0 L2.6 16.1" fill="none" stroke="#111" stroke-width="1.1" stroke-linecap="round" stroke-linejoin="round"/></svg>
<div class="t" style="left:13.60px;top:96.00px;font-size:8.4px;font-weight:700;color:#111;transform:scaleX(0.9320);transform-origin:0 0;-webkit-text-stroke:0.15px #111;">NN76464-2398</div>
<div class="r" style="left:13.60px;top:108.78px;width:59.8px;height:2.9px;background:#e6e6e6;border-radius:2px"></div>
<div class="r" style="left:13.60px;top:108.78px;width:40.40px;height:2.9px;background:#d7101c;border-radius:2px"></div>
<div class="r" style="left:13.70px;top:116.88px;width:40.4px;height:12px;background:#d7101c;border-radius:6px"></div>
<svg class="r" style="left:16.10px;top:117.78px" width="8" height="12"><path d="M3.0 3.4 L5.6 8.4 L0.4 8.4 Z" fill="none" stroke="#fff" stroke-width="0.8" stroke-linejoin="round"/><path d="M3 5.2 V6.6 M3 7.3 V7.6" stroke="#fff" stroke-width="0.7"/></svg>
<div class="t" style="left:23.50px;top:121.00px;font-size:6.9px;font-weight:400;color:#fff;transform:scaleX(0.9696);transform-origin:0 0;-webkit-text-stroke:0.1px #fff;">Deviation</div>
<div class="r" style="left:57.90px;top:117.08px;width:25.2px;height:11.4px;background:#e9e9eb;border-radius:6px"></div>
<div class="t" style="left:40.50px;width:60px;text-align:center;top:120.00px;font-size:6.9px;font-weight:400;color:#1f1f1f;transform:scaleX(1.0091);transform-origin:50% 0;-webkit-text-stroke:0.05px #1f1f1f;">Monit..</div>
<svg class="r" style="left:2.50px;top:134.16px" width="10" height="30"><path d="M2.6 11.9 L4.9 14.0 L2.6 16.1" fill="none" stroke="#111" stroke-width="1.1" stroke-linecap="round" stroke-linejoin="round"/></svg>
<div class="t" style="left:13.60px;top:144.00px;font-size:8.4px;font-weight:700;color:#111;transform:scaleX(0.9320);transform-origin:0 0;-webkit-text-stroke:0.15px #111;">NN76464-2453</div>
<div class="r" style="left:13.60px;top:156.16px;width:59.8px;height:2.9px;background:#e6e6e6;border-radius:2px"></div>
<div class="r" style="left:13.60px;top:156.16px;width:33.90px;height:2.9px;background:#efa81a;border-radius:2px"></div>
<div class="r" style="left:13.70px;top:164.46px;width:37.6px;height:11.4px;background:#e9e9eb;border-radius:6px"></div>
<div class="t" style="left:2.50px;width:60px;text-align:center;top:167.00px;font-size:6.9px;font-weight:400;color:#1f1f1f;transform:scaleX(1.0334);transform-origin:50% 0;-webkit-text-stroke:0.05px #1f1f1f;">Monitoring</div>
<svg class="r" style="left:2.50px;top:181.54px" width="10" height="30"><path d="M2.6 11.9 L4.9 14.0 L2.6 16.1" fill="none" stroke="#111" stroke-width="1.1" stroke-linecap="round" stroke-linejoin="round"/></svg>
<div class="t" style="left:13.60px;top:191.00px;font-size:8.4px;font-weight:700;color:#111;transform:scaleX(0.9320);transform-origin:0 0;-webkit-text-stroke:0.15px #111;">NN81364-9876</div>
<div class="r" style="left:13.60px;top:203.54px;width:59.8px;height:2.9px;background:#e6e6e6;border-radius:2px"></div>
<div class="r" style="left:13.60px;top:203.54px;width:20.40px;height:2.9px;background:#1e8a2e;border-radius:2px"></div>
<div class="r" style="left:13.70px;top:211.84px;width:26.6px;height:11.4px;background:#e9e9eb;border-radius:6px"></div>
<div class="t" style="left:-3.00px;width:60px;text-align:center;top:215.00px;font-size:6.9px;font-weight:400;color:#1f1f1f;transform:scaleX(0.9707);transform-origin:50% 0;-webkit-text-stroke:0.05px #1f1f1f;">Startup</div>
<svg class="r" style="left:2.50px;top:228.92px" width="10" height="30"><path d="M2.6 11.9 L4.9 14.0 L2.6 16.1" fill="none" stroke="#111" stroke-width="1.1" stroke-linecap="round" stroke-linejoin="round"/></svg>
<div class="t" style="left:13.60px;top:238.00px;font-size:8.4px;font-weight:700;color:#111;transform:scaleX(0.9320);transform-origin:0 0;-webkit-text-stroke:0.15px #111;">NN85364-9843</div>
<div class="r" style="left:13.60px;top:250.92px;width:59.8px;height:2.9px;background:#e6e6e6;border-radius:2px"></div>
<div class="r" style="left:13.60px;top:250.92px;width:46.50px;height:2.9px;background:#1e8a2e;border-radius:2px"></div>
<div class="r" style="left:13.70px;top:259.22px;width:37.6px;height:11.4px;background:#e9e9eb;border-radius:6px"></div>
<div class="t" style="left:2.50px;width:60px;text-align:center;top:262.00px;font-size:6.9px;font-weight:400;color:#1f1f1f;transform:scaleX(1.0334);transform-origin:50% 0;-webkit-text-stroke:0.05px #1f1f1f;">Monitoring</div>
<svg class="r" style="left:2.50px;top:276.30px" width="10" height="30"><path d="M2.6 11.9 L4.9 14.0 L2.6 16.1" fill="none" stroke="#111" stroke-width="1.1" stroke-linecap="round" stroke-linejoin="round"/></svg>
<div class="t" style="left:13.60px;top:286.00px;font-size:8.4px;font-weight:700;color:#111;transform:scaleX(0.9320);transform-origin:0 0;-webkit-text-stroke:0.15px #111;">NN85364-9843</div>
<div class="r" style="left:13.60px;top:298.30px;width:59.8px;height:2.9px;background:#e6e6e6;border-radius:2px"></div>
<div class="r" style="left:13.60px;top:298.30px;width:20.40px;height:2.9px;background:#1e8a2e;border-radius:2px"></div>
<div class="r" style="left:13.70px;top:306.60px;width:26.6px;height:11.4px;background:#e9e9eb;border-radius:6px"></div>
<div class="t" style="left:-3.00px;width:60px;text-align:center;top:310.00px;font-size:6.9px;font-weight:400;color:#1f1f1f;transform:scaleX(0.9707);transform-origin:50% 0;-webkit-text-stroke:0.05px #1f1f1f;">Startup</div>
<div class="r" style="left:0;top:295.50px;width:720.5px;height:22.30px;background:linear-gradient(rgba(247,248,250,0),rgba(247,248,250,0.75))"></div>
</div>
<div class="r" style="left:47.0px;top:144.0px;width:721.5px;height:318.3px;border:0.8px solid #e6e6e9;border-bottom:none"></div>
<div class="r" style="left:296.8px;top:275.2px;width:108px;height:82.3px;background:#283046;border-radius:2px"></div>
<svg class="r" style="left:340px;top:265px" width="20" height="12"><path d="M7.6 10.4 L10.8 5.6 L14.0 10.4 Z" fill="#283046"/></svg>
<div class="t" style="left:301.40px;top:283.00px;font-size:6.6px;font-weight:700;color:#fff;transform:scaleX(0.9735);transform-origin:0 0;-webkit-text-stroke:0.15px #fff;">Week 41</div>
<div class="t" style="left:330.00px;top:283.00px;font-size:6.9px;font-weight:400;color:#9ea5b8;">|</div>
<div class="t" style="left:333.80px;top:283.00px;font-size:6.6px;font-weight:400;color:#e6e8ee;transform:scaleX(0.9686);transform-origin:0 0;-webkit-text-stroke:0.1px #e6e8ee;">16 Nov - 18 Nov</div>
<div class="t" style="left:301.40px;top:293.00px;font-size:6.6px;font-weight:400;color:#e6e8ee;transform:scaleX(1.0088);transform-origin:0 0;-webkit-text-stroke:0.1px #e6e8ee;">Stage: Monitoring Visit</div>
<div class="t" style="left:301.40px;top:310.00px;font-size:6.9px;font-weight:400;color:#e6e8ee;transform:scaleX(1.0274);transform-origin:0 0;-webkit-text-stroke:0.1px #e6e8ee;">Patients Screened:</div>
<div class="t" style="left:369.90px;width:30px;text-align:right;top:309.00px;font-size:7.6px;font-weight:700;color:#fff;transform:scaleX(0.9817);transform-origin:100% 0;-webkit-text-stroke:0.15px #fff;">45</div>
<div class="t" style="left:301.40px;top:322.00px;font-size:6.9px;font-weight:400;color:#e6e8ee;transform:scaleX(1.0212);transform-origin:0 0;-webkit-text-stroke:0.1px #e6e8ee;">Patients Realised:</div>
<div class="t" style="left:369.90px;width:30px;text-align:right;top:321.00px;font-size:7.6px;font-weight:700;color:#fff;transform:scaleX(0.9817);transform-origin:100% 0;-webkit-text-stroke:0.15px #fff;">12</div>
<div class="t" style="left:301.40px;top:334.00px;font-size:6.9px;font-weight:400;color:#e6e8ee;transform:scaleX(1.0415);transform-origin:0 0;-webkit-text-stroke:0.1px #e6e8ee;">Protocol Deviation in %:</div>
<div class="t" style="left:369.90px;width:30px;text-align:right;top:333.00px;font-size:7.6px;font-weight:700;color:#fff;transform:scaleX(0.9817);transform-origin:100% 0;-webkit-text-stroke:0.15px #fff;">77</div>
<div class="t" style="left:301.40px;top:346.00px;font-size:6.9px;font-weight:400;color:#e6e8ee;transform:scaleX(1.0438);transform-origin:0 0;-webkit-text-stroke:0.1px #e6e8ee;">Trending Deviation in %:</div>
<div class="t" style="left:369.90px;width:30px;text-align:right;top:345.00px;font-size:7.6px;font-weight:700;color:#fff;transform:scaleX(0.9817);transform-origin:100% 0;-webkit-text-stroke:0.15px #fff;">63</div>
</div></div>
</body></html>
